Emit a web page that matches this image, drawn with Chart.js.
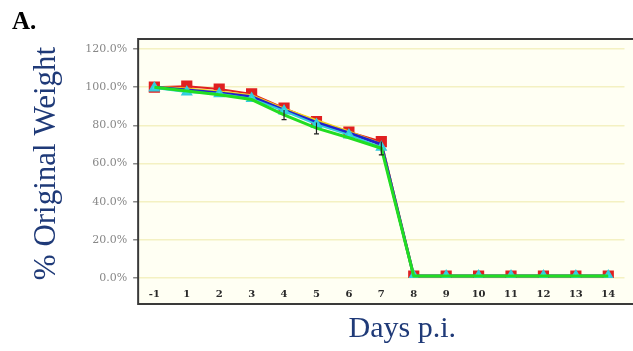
<!DOCTYPE html>
<html>
<head>
<meta charset="utf-8">
<script src="https://cdn.jsdelivr.net/npm/chart.js@4.4.1/dist/chart.umd.min.js"></script>
<style>
  html, body { margin: 0; padding: 0; background: #ffffff; }
  #wrap { width: 633px; height: 351px; position: relative; }
</style>
</head>
<body>
<div id="wrap"><canvas id="c" width="633" height="351"></canvas></div>
<script>
// Days post infection
const days = ['-1', '1', '2', '3', '4', '5', '6', '7', '8', '9', '10', '11', '12', '13', '14'];

// Mean body weight, % of starting weight, per group
const redGroup    = [100, 100.5, 99, 96.5, 89, 82, 76.5, 71.5, 1, 1, 1, 1, 1, 1, 1];
const yellowGroup = [100, 99, 97.5, 95.5, 88.5, 82.5, 76.5, 70, 1, 1, 1, 1, 1, 1, 1];
const blueGroup   = [100, 98.5, 97, 95, 88, 81.5, 76, 70, 1, 1, 1, 1, 1, 1, 1];
const cyanGroup   = [99.5, 97.5, 96.5, 94, 87.5, 80.5, 75, 68.5, 1, 1, 1, 1, 1, 1, 1];
const greenGroup  = [100, 98, 96, 93.5, 85.5, 78.5, 73.5, 68, 1, 1, 1, 1, 1, 1, 1];
const greenError  = [0, 0, 0, 0, 2.5, 3, 0, 3.5, 0, 0, 0, 0, 0, 0, 0];

// Y axis ticks
const yTicks = [0, 20, 40, 60, 80, 100, 120];

// Axis title texts
const xTitle = 'Days p.i.';
const yTitle = '% Original Weight';

// Height of the strip below the plot that holds the day labels
const labelStrip = 26;

// Pale plot panel with a dark frame that also encloses the day labels
const panelPlugin = {
  id: 'panel',
  beforeDraw(chart) {
    const { ctx, chartArea } = chart;
    const top = chartArea.top - 10;
    const bottom = chartArea.bottom + labelStrip;
    ctx.save();
    ctx.fillStyle = '#fffff3';
    ctx.fillRect(chartArea.left, top, chart.width - chartArea.left, bottom - top);
    ctx.restore();
  },
  afterDraw(chart) {
    const { ctx, chartArea } = chart;
    const top = chartArea.top - 10;
    const bottom = chartArea.bottom + labelStrip;
    ctx.save();
    ctx.strokeStyle = '#3a3a3a';
    ctx.lineWidth = 2;
    ctx.beginPath();
    ctx.moveTo(chart.width + 2, top);
    ctx.lineTo(chartArea.left, top);
    ctx.lineTo(chartArea.left, bottom);
    ctx.lineTo(chart.width + 2, bottom);
    ctx.stroke();
    // x axis title, set a little right of the plot centre
    ctx.fillStyle = '#1f3a78';
    ctx.font = '30px "Liberation Serif", serif';
    ctx.textAlign = 'center';
    ctx.textBaseline = 'middle';
    ctx.fillText(xTitle, (chartArea.left + chartArea.right) / 2 + 21, bottom + 25);
    // panel letter
    ctx.fillStyle = '#000000';
    ctx.font = 'bold 25px "Liberation Serif", serif';
    ctx.textAlign = 'left';
    ctx.textBaseline = 'alphabetic';
    ctx.fillText('A.', 12, 29);
    ctx.restore();
  }
};

// Error bars for the green group, drawn through the chart's scales
const errorBarPlugin = {
  id: 'errorBars',
  afterDatasetsDraw(chart) {
    const { ctx } = chart;
    const xs = chart.scales.x, ys = chart.scales.y;
    ctx.save();
    ctx.strokeStyle = '#222222';
    ctx.lineWidth = 1.2;
    greenError.forEach((e, i) => {
      if (!e) return;
      const x = xs.getPixelForValue(i);
      const yLo = ys.getPixelForValue(greenGroup[i] - e);
      const yHi = ys.getPixelForValue(greenGroup[i] + e);
      ctx.beginPath();
      ctx.moveTo(x, yHi); ctx.lineTo(x, yLo);
      ctx.moveTo(x - 2.5, yLo); ctx.lineTo(x + 2.5, yLo);
      ctx.stroke();
    });
    ctx.restore();
  }
};

new Chart(document.getElementById('c'), {
  type: 'line',
  data: {
    labels: days,
    datasets: [
      { label: 'Green', data: greenGroup, borderColor: '#22dd22', backgroundColor: '#22dd22',
        borderWidth: 3, pointRadius: 0, order: 1 },
      { label: 'Cyan', data: cyanGroup, borderColor: '#33ccdd', backgroundColor: '#33ddee',
        borderWidth: 2, pointStyle: 'triangle', pointRadius: 5, order: 2 },
      { label: 'Blue', data: blueGroup, borderColor: '#2222cc', backgroundColor: '#2222cc',
        borderWidth: 3, pointRadius: 0, order: 3 },
      { label: 'Yellow', data: yellowGroup, borderColor: '#f2d21a', backgroundColor: '#f2d21a',
        borderWidth: 3, pointRadius: 0, order: 4 },
      { label: 'Red', data: redGroup, borderColor: '#e02020', backgroundColor: '#e02020',
        borderWidth: 2, pointStyle: 'rect', pointRadius: 6.5, order: 5 }
    ]
  },
  options: {
    responsive: false,
    animation: false,
    layout: { padding: { top: 49, right: 0, bottom: 41, left: 28 } },
    plugins: { legend: { display: false }, tooltip: { enabled: false } },
    elements: { line: { tension: 0 }, point: { borderWidth: 1 } },
    scales: {
      x: {
        offset: true,
        grid: { display: false, drawTicks: false },
        border: { display: false },
        ticks: {
          color: '#2a2a2a',
          font: { family: '"DejaVu Serif", serif', size: 10, weight: 'bold' },
          padding: 10
        }
      },
      y: {
        min: 0,
        max: 120,
        afterBuildTicks(axis) { axis.ticks = yTicks.map(v => ({ value: v })); },
        grid: { color: '#f4f1c2', lineWidth: 1.5, tickColor: '#888888', tickLength: 5 },
        border: { display: false },
        ticks: {
          color: '#888888',
          font: { family: '"DejaVu Serif", serif', size: 11 },
          padding: 6,
          callback: v => v.toFixed(1) + '%'
        },
        title: {
          display: true,
          text: yTitle,
          color: '#1f3a78',
          font: { family: '"Liberation Serif", serif', size: 31 },
          padding: { top: 0, bottom: 14 }
        }
      }
    }
  },
  plugins: [panelPlugin, errorBarPlugin]
});
</script>
</body>
</html>
